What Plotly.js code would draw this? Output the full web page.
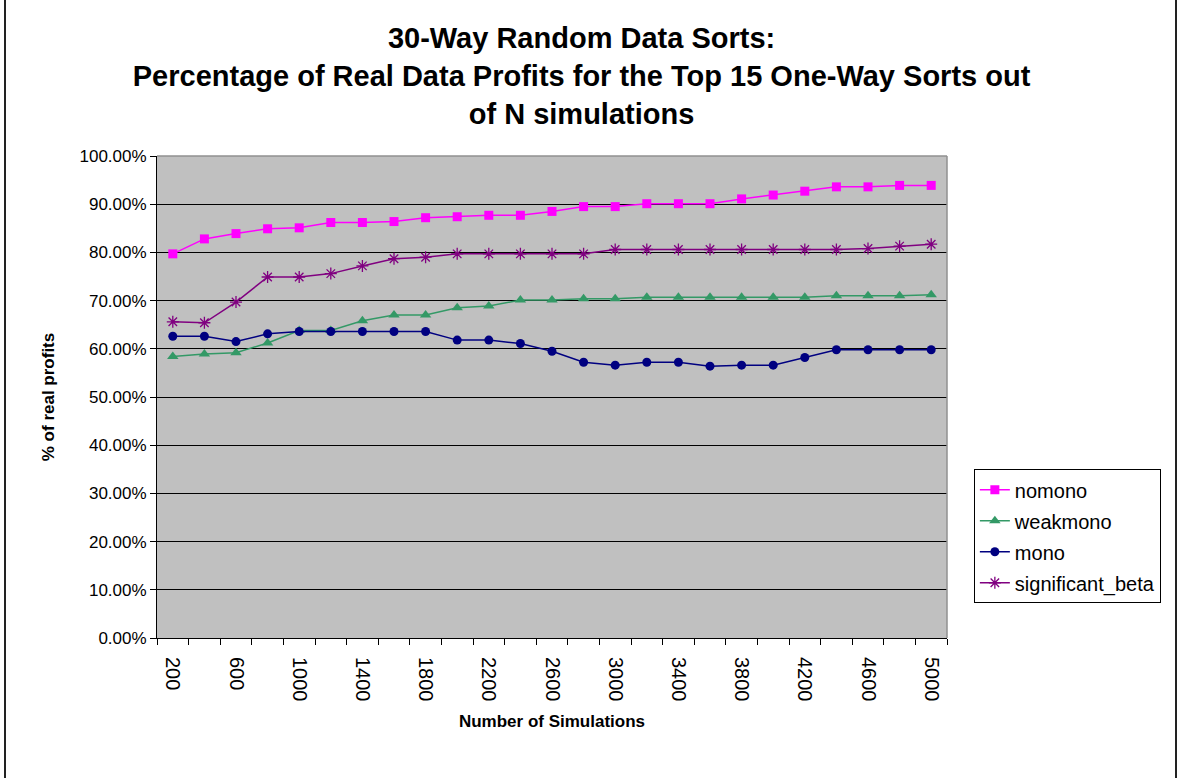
<!DOCTYPE html>
<html>
<head>
<meta charset="utf-8">
<script src="https://cdn.plot.ly/plotly-3.0.1.min.js"></script>
<style>
  html, body { margin: 0; padding: 0; background: #fff; }
  #frame { position: absolute; left: 4px; top: -10px; width: 1173px; height: 830px; border: 2px solid #222; box-sizing: border-box; pointer-events: none; z-index: 10; }
  #chart { position: absolute; left: 0; top: 0; width: 1182px; height: 778px; }
</style>
</head>
<body>
<div id="chart"></div>
<div id="frame"></div>
<script>
const simulations = [200, 400, 600, 800, 1000, 1200, 1400, 1600, 1800, 2000, 2200, 2400, 2600,
                     2800, 3000, 3200, 3400, 3600, 3800, 4000, 4200, 4400, 4600, 4800, 5000];

const nomono = [0.797, 0.828, 0.839, 0.849, 0.851, 0.862, 0.862, 0.864, 0.872, 0.874, 0.877, 0.877, 0.885,
                0.895, 0.895, 0.901, 0.901, 0.901, 0.911, 0.919, 0.927, 0.936, 0.936, 0.939, 0.939];

const weakmono = [0.584, 0.589, 0.592, 0.612, 0.638, 0.638, 0.658, 0.670, 0.670, 0.685, 0.689, 0.701, 0.701,
                  0.704, 0.704, 0.707, 0.707, 0.707, 0.707, 0.707, 0.707, 0.710, 0.710, 0.710, 0.712];

const mono = [0.626, 0.626, 0.615, 0.631, 0.636, 0.636, 0.636, 0.636, 0.636, 0.618, 0.618, 0.611, 0.595,
              0.572, 0.566, 0.572, 0.572, 0.564, 0.566, 0.566, 0.582, 0.598, 0.598, 0.598, 0.598];

const significantBeta = [0.656, 0.654, 0.697, 0.749, 0.749, 0.756, 0.772, 0.787, 0.790, 0.797, 0.797, 0.797, 0.797,
                         0.797, 0.806, 0.806, 0.806, 0.806, 0.806, 0.806, 0.806, 0.806, 0.808, 0.813, 0.817];

const seriesNames = ['nomono', 'weakmono', 'mono', 'significant_beta'];
const chartTitle = '30-Way Random Data Sorts:<br>Percentage of Real Data Profits for the Top 15 One-Way Sorts out<br>of N simulations';
const xTitle = 'Number of Simulations';
const yTitle = '% of real profits';

const font = 'Arial, "Liberation Sans", Helvetica, sans-serif';

function trace(y, name, color, symbol, size, group) {
  return {
    x: simulations, y: y, name: name, type: 'scatter', mode: 'lines+markers',
    line: { color: color, width: 1.5 },
    marker: { color: color, symbol: symbol, size: size, line: { color: color, width: symbol.indexOf('asterisk') === 0 ? 1.3 : 0 } },
    legendgroup: group
  };
}

const data = [
  trace(nomono, seriesNames[0], '#FF00FF', 'square', 9, 'a'),
  trace(weakmono, seriesNames[1], '#339966', 'triangle-up', 10, 'b'),
  trace(mono, seriesNames[2], '#000080', 'circle', 9, 'c'),
  trace(significantBeta, seriesNames[3], '#800080', 'asterisk-open', 10, 'd')
];

const layout = {
  width: 1182, height: 778,
  margin: { l: 157, r: 235, t: 156, b: 140 },
  paper_bgcolor: 'rgba(0,0,0,0)',
  plot_bgcolor: '#C0C0C0',
  font: { family: font, color: '#000' },
  showlegend: true,
  title: {
    text: chartTitle,
    font: { family: font, size: 29, color: '#000', weight: 'bold' },
    x: 0.492, xanchor: 'center', y: 0.938, yanchor: 'top'
  },
  xaxis: {
    type: 'linear',
    range: [100, 5100],
    tickmode: 'linear', tick0: 200, dtick: 400,
    tickangle: 90,
    ticks: 'outside', ticklen: 14, tickcolor: 'rgba(0,0,0,0)',
    tickfont: { family: font, size: 20, color: '#000' },
    showgrid: false, zeroline: false,
    showline: true, linecolor: '#000', linewidth: 1,
    minor: { tickmode: 'linear', tick0: 100, dtick: 200, ticks: 'outside', ticklen: 6, tickcolor: '#000', showgrid: false },
    title: { text: xTitle, font: { family: font, size: 17, color: '#000', weight: 'bold' }, standoff: 14 }
  },
  yaxis: {
    range: [0, 1],
    tickmode: 'linear', tick0: 0, dtick: 0.1,
    tickformat: '.2%',
    ticks: 'outside', ticklen: 6, tickcolor: '#000',
    tickfont: { family: font, size: 17, color: '#000' },
    showgrid: true, gridcolor: '#000', gridwidth: 1,
    zeroline: false,
    showline: true, linecolor: '#000', linewidth: 1,
    title: { text: yTitle, font: { family: font, size: 17, color: '#000', weight: 'bold' }, standoff: 20 }
  },
  legend: {
    x: 1.034, xanchor: 'left', y: 0.35, yanchor: 'top',
    bgcolor: '#fff', bordercolor: '#000', borderwidth: 1,
    font: { family: font, size: 20, color: '#000' },
    tracegroupgap: 2,
    itemwidth: 30
  },
  shapes: [
    { type: 'line', xref: 'paper', yref: 'paper', x0: 0, x1: 1, y0: 1, y1: 1, line: { color: '#909090', width: 1.5 }, layer: 'above' },
    { type: 'line', xref: 'paper', yref: 'paper', x0: 1, x1: 1, y0: 0, y1: 1, line: { color: '#909090', width: 1.5 }, layer: 'above' }
  ]
};

Plotly.newPlot('chart', data, layout, { displayModeBar: false, staticPlot: true });
</script>
</body>
</html>
